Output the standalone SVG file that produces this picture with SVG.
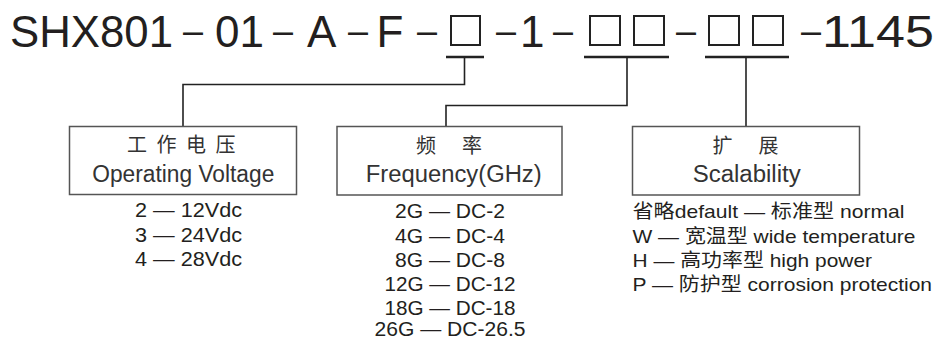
<svg xmlns="http://www.w3.org/2000/svg" width="937" height="339" viewBox="0 0 937 339">
<style>
text{font-family:"Liberation Sans","Noto Sans CJK SC",sans-serif;fill:#231f20}
.title{font-size:44px}
.dash{font-size:36px;text-anchor:middle}
.sq{fill:none;stroke:#222;stroke-width:2}
.ul{stroke:#222;stroke-width:2.5;fill:none}
.conn{stroke:#222;stroke-width:1.6;fill:none}
.box{fill:#fff;stroke:#555;stroke-width:1.5}
.cn{font-size:20px;fill:#333}
.en{font-size:23px;fill:#333}
.lst{font-size:19.5px}
.rl{font-size:19px}
</style>
<rect width="937" height="339" fill="#fff"/>
<g id="code">
<text class="title" y="47"><tspan x="10" textLength="163" lengthAdjust="spacingAndGlyphs">SHX801</tspan><tspan x="215">01</tspan><tspan x="307">A</tspan><tspan x="376.5">F</tspan><tspan x="520">1</tspan><tspan x="822" textLength="112" lengthAdjust="spacingAndGlyphs">1145</tspan></text>
<text class="dash" y="42.5"><tspan x="193">–</tspan><tspan x="283">–</tspan><tspan x="358">–</tspan><tspan x="427">–</tspan><tspan x="506">–</tspan><tspan x="563">–</tspan><tspan x="686">–</tspan><tspan x="811">–</tspan></text>
<rect class="sq" x="451" y="16" width="29" height="29"/>
<rect class="sq" x="590" y="16" width="30" height="29"/>
<rect class="sq" x="634" y="16" width="30" height="29"/>
<rect class="sq" x="709" y="16" width="30" height="29"/>
<rect class="sq" x="753" y="16" width="30" height="29"/>
</g>
<g id="connectors">
<line class="ul" x1="446" y1="57" x2="484" y2="57"/>
<line class="ul" x1="584" y1="57" x2="669" y2="57"/>
<line class="ul" x1="705" y1="57" x2="789" y2="57"/>
<path class="conn" d="M464.5 57 V84.5 H183 V126"/>
<path class="conn" d="M627 57 V105.5 H446 V126"/>
<path class="conn" d="M746 57 V126"/>
</g>
<g id="voltage">
<rect class="box" x="69.5" y="126.5" width="227" height="68"/>
<text class="cn" x="127" y="151.5" letter-spacing="9.5">工作电压</text>
<text class="en" x="183.3" y="181.5" text-anchor="middle" textLength="182" lengthAdjust="spacingAndGlyphs">Operating Voltage</text>
<text class="lst" x="135" y="217" textLength="107" lengthAdjust="spacingAndGlyphs">2 — 12Vdc</text>
<text class="lst" x="135" y="241.5" textLength="107" lengthAdjust="spacingAndGlyphs">3 — 24Vdc</text>
<text class="lst" x="135" y="265.5" textLength="107" lengthAdjust="spacingAndGlyphs">4 — 28Vdc</text>
</g>
<g id="frequency">
<rect class="box" x="337" y="126.5" width="225" height="68.5"/>
<text class="cn" x="416" y="152.5" letter-spacing="10.2">频 率</text>
<text class="en" x="453.7" y="181.5" text-anchor="middle" textLength="176" lengthAdjust="spacingAndGlyphs">Frequency(GHz)</text>
<text class="lst" x="450" y="218" text-anchor="middle" textLength="110" lengthAdjust="spacingAndGlyphs">2G — DC-2</text>
<text class="lst" x="450" y="242.5" text-anchor="middle" textLength="110" lengthAdjust="spacingAndGlyphs">4G — DC-4</text>
<text class="lst" x="450" y="266.5" text-anchor="middle" textLength="110" lengthAdjust="spacingAndGlyphs">8G — DC-8</text>
<text class="lst" x="450" y="290.5" text-anchor="middle" textLength="131" lengthAdjust="spacingAndGlyphs">12G — DC-12</text>
<text class="lst" x="450" y="314.5" text-anchor="middle" textLength="131" lengthAdjust="spacingAndGlyphs">18G — DC-18</text>
<text class="lst" x="450" y="336" text-anchor="middle" textLength="151" lengthAdjust="spacingAndGlyphs">26G — DC-26.5</text>
</g>
<g id="scalability">
<rect class="box" x="632.5" y="126.5" width="227" height="68.5"/>
<text class="cn" x="712.5" y="152.5" letter-spacing="10.2">扩 展</text>
<text class="en" x="746.7" y="181.5" text-anchor="middle" textLength="108" lengthAdjust="spacingAndGlyphs">Scalability</text>
<text class="rl" x="632.5" y="218" textLength="272" lengthAdjust="spacingAndGlyphs">省略default — 标准型 normal</text>
<text class="rl" x="632.5" y="242.5" textLength="283" lengthAdjust="spacingAndGlyphs">W — 宽温型 wide temperature</text>
<text class="rl" x="632.5" y="266.5" textLength="239.5" lengthAdjust="spacingAndGlyphs">H — 高功率型 high power</text>
<text class="rl" x="632.5" y="290.5" textLength="299.5" lengthAdjust="spacingAndGlyphs">P — 防护型 corrosion protection</text>
</g>
</svg>
